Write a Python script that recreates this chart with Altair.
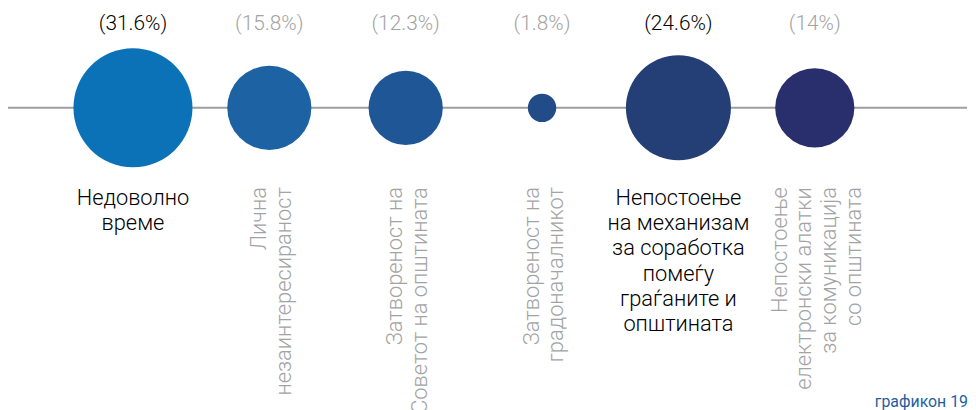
import altair as alt
import pandas as pd

# --- data ---
categories = [
    "Недоволно време",
    "Лична незаинтересираност",
    "Затвореност на Советот на општината",
    "Затвореност на градоначалникот",
    "Непостоење на механизам за соработка помеѓу граѓаните и општината",
    "Непостоење електронски алатки за комуникација со општината",
]
label_lines = [
    "Недоволно\nвреме",
    "Лична\nнезаинтересираност",
    "Затвореност на\nСоветот на општината",
    "Затвореност на\nградоначалникот",
    "Непостоење\nна механизам\nза соработка\nпомеѓу\nграѓаните и\nопштината",
    "Непостоење\nелектронски алатки\nза комуникација\nсо општината",
]
values = [31.6, 15.8, 12.3, 1.8, 24.6, 14.0]
value_labels = ["(31.6%)", "(15.8%)", "(12.3%)", "(1.8%)", "(24.6%)", "(14%)"]
footnote = "графикон 19"

colors = ["#0b72b8", "#1d63a3", "#1f5696", "#224c88", "#243e76", "#282f6c"]

top2 = sorted(values, reverse=True)[:2]
df = pd.DataFrame({
    "cat": categories,
    "label": label_lines,
    "value": values,
    "pct": value_labels,
    "hl": [v in top2 for v in values],
})

W, H = 968, 402
LINE_Y = 99
FONT = "Roboto"
GREY = "#a3a3a3"
VLH = 25  # line height of the rotated labels

xenc = alt.X("cat:N", sort=None, axis=None,
             scale=alt.Scale(type="point", range=[126, 813.5], padding=0))

base = alt.Chart(df)

rule = base.transform_filter("datum.cat == '" + categories[0] + "'").mark_rule(
    color="#9e9e9e", strokeWidth=2
).encode(x=alt.value(0), x2=alt.value(W - 1), y=alt.value(LINE_Y))

circles = base.mark_circle(opacity=1).encode(
    x=xenc,
    y=alt.value(LINE_Y),
    size=alt.Size("value:Q", legend=None,
                  scale=alt.Scale(type="linear", domain=[0, 31.6], range=[0, 14400], zero=True)),
    color=alt.Color("cat:N", legend=None,
                    scale=alt.Scale(domain=categories, range=colors)),
)

pct_text = base.mark_text(font=FONT, fontSize=21, fontWeight=300,
                          baseline="alphabetic", align="center").encode(
    x=xenc,
    y=alt.value(21),
    text="pct:N",
    color=alt.condition("datum.hl", alt.value("#000000"), alt.value(GREY)),
)

h_labels = base.transform_filter("datum.hl").mark_text(
    font=FONT, fontSize=22, fontWeight=300, baseline="alphabetic", align="center",
    lineBreak="\n", lineHeight=25.4, color="#000000"
).encode(x=xenc, y=alt.value(197), text="label:N")

v_labels = base.transform_filter("!datum.hl").transform_calculate(
    off=f"-(length(split(datum.label, '\\n')) - 1) / 2 * {VLH} + 2"
).mark_text(
    font=FONT, fontSize=22, fontWeight=300, baseline="middle", align="right", angle=270,
    lineBreak="\n", lineHeight=VLH, color=GREY
).encode(x=xenc, xOffset=alt.XOffset("off:Q", scale=None),
         y=alt.value(179), text="label:N")

foot = alt.Chart(pd.DataFrame({"t": [footnote]})).mark_text(
    font=FONT, fontSize=16, align="right", baseline="alphabetic", color="#1f5fa0"
).encode(x=alt.value(W), y=alt.value(401), text="t:N")

chart = alt.layer(rule, circles, pct_text, h_labels, v_labels, foot).properties(
    width=W, height=H, autosize=alt.AutoSizeParams(type="none"), padding=0
).configure_view(stroke=None)

chart.save("out.html", embed_options={"renderer": "svg", "actions": False})
